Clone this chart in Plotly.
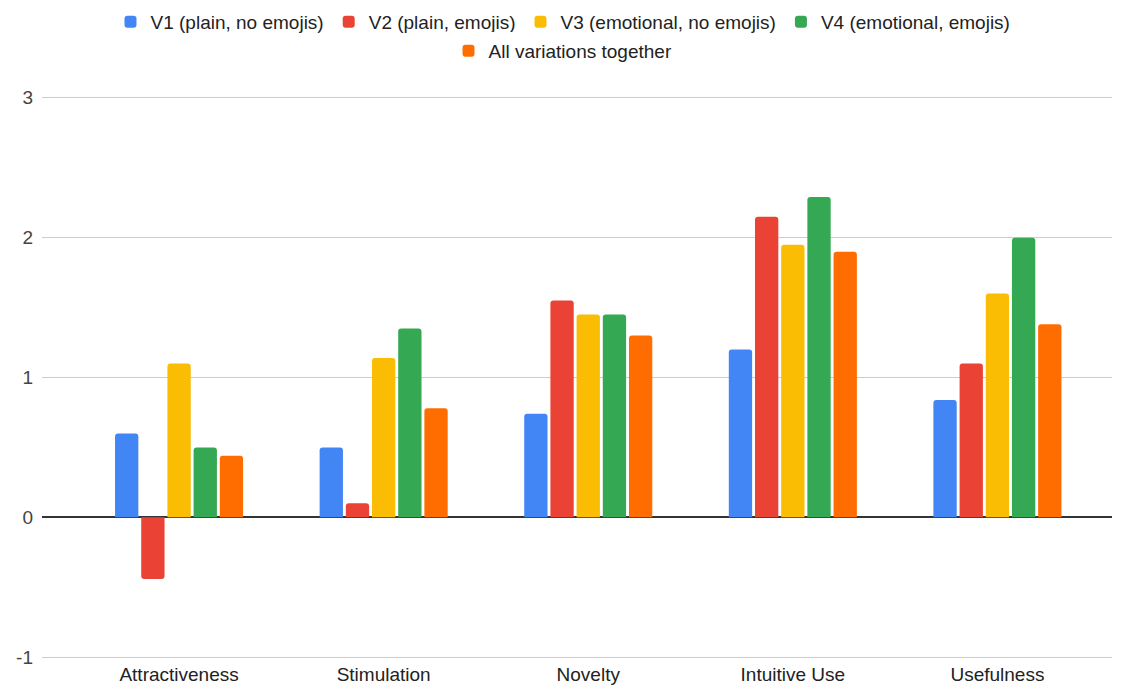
import plotly.graph_objects as go

categories = ["Attractiveness", "Stimulation", "Novelty", "Intuitive Use", "Usefulness"]
v1 = [0.60, 0.50, 0.74, 1.20, 0.84]
v2 = [-0.44, 0.10, 1.55, 2.15, 1.10]
v3 = [1.10, 1.14, 1.45, 1.95, 1.60]
v4 = [0.50, 1.35, 1.45, 2.29, 2.00]
all_v = [0.44, 0.78, 1.30, 1.90, 1.38]

series_names = ["V1 (plain, no emojis)", "V2 (plain, emojis)", "V3 (emotional, no emojis)",
                "V4 (emotional, emojis)", "All variations together"]
colors = ["#4285F4", "#EA4335", "#FBBC04", "#34A853", "#FF6D01"]
values = [v1, v2, v3, v4, all_v]

fig = go.Figure()
for i, (name, vals, c) in enumerate(zip(series_names, values, colors)):
    fig.add_trace(go.Bar(
        x=categories, y=vals, name=name, marker_color=c,
        marker_line_width=0,
        legend="legend" if i < 4 else "legend2",
    ))

font = "Liberation Sans, Arial, sans-serif"
fs = 19
fig.update_layout(
    width=1126, height=686,
    margin=dict(l=42, r=14, t=95, b=26),
    paper_bgcolor="white", plot_bgcolor="white",
    barmode="group", bargap=0.36, bargroupgap=0.11,
    barcornerradius=3,
    font=dict(family=font, size=fs, color="#222222"),
    legend=dict(orientation="h", x=0.5, xanchor="center", xref="container",
                y=1 - 22 / 686, yanchor="middle", yref="container",
                font=dict(size=fs, color="#222222"), itemwidth=30, tracegroupgap=0),
    legend2=dict(orientation="h", x=0.5, xanchor="center", xref="container",
                 y=1 - 51 / 686, yanchor="middle", yref="container",
                 font=dict(size=fs, color="#222222"), itemwidth=30),
    xaxis=dict(range=[-0.67, 4.56], showgrid=False, ticks="", showline=False,
               tickfont=dict(size=fs, color="#222222"), automargin=False,
               ticklabelstandoff=1),
    yaxis=dict(range=[-1.02, 3.02], tickvals=[-1, 0, 1, 2, 3], ticktext=["-1", "0", "1", "2", "3"],
               showgrid=True, gridcolor="#cccccc", gridwidth=1,
               zeroline=True, zerolinecolor="#333333", zerolinewidth=1.5,
               tickfont=dict(size=fs, color="#444444"), ticklabelstandoff=8, automargin=False),
    showlegend=True,
)

fig.write_html("out.html")
